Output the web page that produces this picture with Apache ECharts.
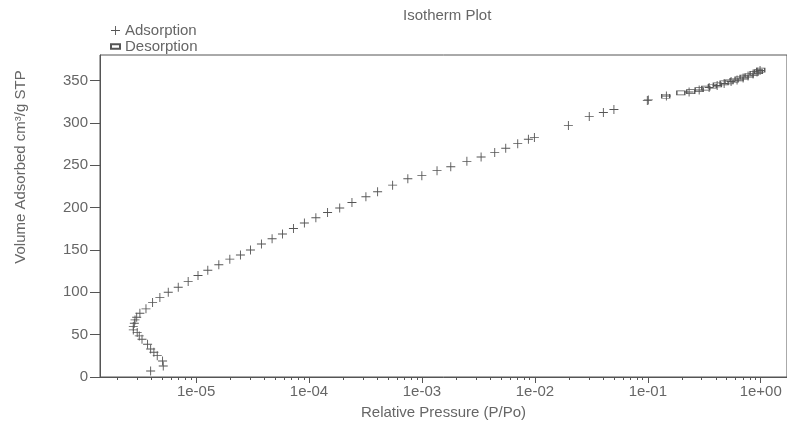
<!DOCTYPE html>
<html>
<head>
<meta charset="utf-8">
<script src="https://cdn.jsdelivr.net/npm/echarts@6/dist/echarts.min.js"></script>
<style>
html, body { margin: 0; padding: 0; background: #fff; }
#chart { width: 787px; height: 432px; }
</style>
</head>
<body>
<div id="chart"></div>
<script>
// values
const adsPressure = [
  3.96e-6, 5.12e-6, 5.05e-6, 4.53e-6, 4.23e-6, 3.96e-6, 3.72e-6, 3.32e-6, 3.14e-6, 3.01e-6,
  2.78e-6, 2.78e-6, 2.84e-6, 2.88e-6, 2.98e-6, 3.18e-6, 3.60e-6, 4.12e-6, 4.78e-6, 5.67e-6,
  6.95e-6, 8.51e-6, 1.04e-5, 1.27e-5, 1.59e-5, 1.99e-5, 2.47e-5, 3.03e-5, 3.79e-5, 4.71e-5,
  5.82e-5, 7.28e-5, 9.10e-5, 1.15e-4, 1.46e-4, 1.87e-4, 2.40e-4, 3.19e-4, 4.05e-4, 5.50e-4,
  7.50e-4, 9.98e-4, 1.36e-3, 1.80e-3, 2.50e-3, 3.34e-3, 4.41e-3, 5.52e-3, 7.05e-3, 8.76e-3,
  9.90e-3, 1.98e-2, 3.03e-2, 4.04e-2, 5.01e-2, 9.90e-2, 1.01e-1, 1.46e-1, 2.32e-1, 2.85e-1,
  3.49e-1, 4.11e-1, 4.74e-1, 5.46e-1, 6.17e-1, 6.98e-1, 7.72e-1, 8.55e-1, 9.27e-1, 9.86e-1
];
const adsVolume = [
  7.1, 13.0, 18.9, 25.2, 29.2, 33.1, 38.7, 44.6, 48.5, 52.4,
  55.6, 59.5, 63.5, 67.4, 70.6, 75.3, 80.4, 87.8, 93.7, 100.1,
  106.0, 112.6, 119.7, 125.9, 132.4, 139.1, 143.9, 149.8, 156.9, 163.1,
  168.7, 175.3, 181.7, 187.9, 194.2, 199.4, 206.0, 212.8, 218.7, 226.4,
  234.0, 237.6, 243.5, 248.2, 254.5, 259.7, 264.8, 269.9, 275.4, 280.5,
  282.5, 296.7, 307.3, 312.1, 315.6, 326.2, 327.0, 331.6, 336.3, 338.7,
  341.6, 344.0, 346.3, 348.7, 350.5, 352.8, 355.2, 357.6, 359.9, 361.7
];
const desPressure = [
  1.0, 0.952, 0.873, 0.788, 0.712, 0.643, 0.581, 0.524, 0.474, 0.413,
  0.373, 0.326, 0.285, 0.240, 0.196, 0.144
];
const desVolume = [
  362.1, 360.5, 358.2, 355.8, 353.8, 351.9, 350.2, 348.3, 347.2, 344.8,
  343.1, 340.8, 339.2, 336.9, 335.3, 331.3
];
const yTicks = [0, 50, 100, 150, 200, 250, 300, 350];
const xTicks = [1e-5, 1e-4, 1e-3, 1e-2, 1e-1, 1];
const xTickLabels = ['1e-05', '1e-04', '1e-03', '1e-02', '1e-01', '1e+00'];

const xMin = 1.41e-6;
const xMax = 1.708;
const yMax = 380;

const font = 'Liberation Sans';
const ink = '#555';
const textInk = '#666';
const plus = 'path://M0,4.5L10,4.5L10,5.5L0,5.5Z M4.5,0L5.5,0L5.5,10L4.5,10Z';
const box = 'path://M0,0L10,0L10,5L0,5Z';

// 2..9 in every decade, for the small ticks
const minorTicks = [];
for (let d = -6; d <= 0; d++) {
  for (let k = 2; k <= 9; k++) minorTicks.push(k * Math.pow(10, d));
}

function pairs(xs, ys) {
  return xs.map((x, i) => [x, ys[i]]);
}

const chart = echarts.init(document.getElementById('chart'));
chart.setOption({
  animation: false,
  textStyle: { fontFamily: font },
  title: {
    text: 'Isotherm Plot',
    left: 398, top: 3,
    textStyle: { fontFamily: font, fontSize: 15, fontWeight: 'normal', color: textInk }
  },
  legend: {
    orient: 'vertical',
    left: 110, top: 23, padding: 0,
    itemGap: 1, itemWidth: 9, itemHeight: 9,
    textStyle: { fontFamily: font, fontSize: 15, color: textInk, lineHeight: 15 },
    data: [
      { name: 'Adsorption', icon: plus },
      { name: 'Desorption', icon: box }
    ]
  },
  grid: { left: 100, right: -1, top: 55, bottom: 55, show: true, borderColor: ink, borderWidth: 1 },
  xAxis: [
    {
      type: 'log', min: xMin, max: xMax,
      name: 'Relative Pressure (P/Po)', nameLocation: 'middle', nameGap: 28,
      nameTextStyle: { fontFamily: font, fontSize: 15, color: textInk },
      axisLine: { lineStyle: { color: ink } },
      axisTick: { customValues: xTicks, length: 6, inside: false, lineStyle: { color: ink } },
      axisLabel: {
        customValues: xTicks, margin: 7, fontSize: 15, color: textInk,
        formatter: v => xTickLabels[xTicks.findIndex(t => Math.abs(Math.log10(t) - Math.log10(v)) < 1e-6)]
      },
      splitLine: { show: false }
    },
    {
      type: 'log', min: xMin, max: xMax, position: 'bottom',
      axisLine: { show: false },
      axisTick: { customValues: minorTicks, length: 3, lineStyle: { color: ink } },
      axisLabel: { show: false },
      splitLine: { show: false }
    }
  ],
  yAxis: {
    type: 'value', min: 0, max: yMax,
    name: 'Volume Adsorbed cm³/g STP', nameLocation: 'middle', nameGap: 72, nameRotate: 90,
    nameTextStyle: { fontFamily: font, fontSize: 15, color: textInk, padding: [0, 0, 0, 98] },
    axisLine: { show: true, lineStyle: { color: ink } },
    axisTick: { show: true, customValues: yTicks, length: 10, lineStyle: { color: ink } },
    axisLabel: { customValues: yTicks, margin: 12, fontSize: 15, color: textInk },
    splitLine: { show: false }
  },
  series: [
    {
      name: 'Adsorption', type: 'scatter',
      symbol: plus, symbolSize: 9,
      itemStyle: { color: ink, opacity: 1 },
      data: pairs(adsPressure, adsVolume)
    },
    {
      name: 'Desorption', type: 'scatter',
      symbol: 'rect', symbolSize: [8, 4],
      itemStyle: { color: 'rgba(255,255,255,0)', borderColor: ink, borderWidth: 1, opacity: 1 },
      data: pairs(desPressure, desVolume)
    }
  ]
});
</script>
</body>
</html>
